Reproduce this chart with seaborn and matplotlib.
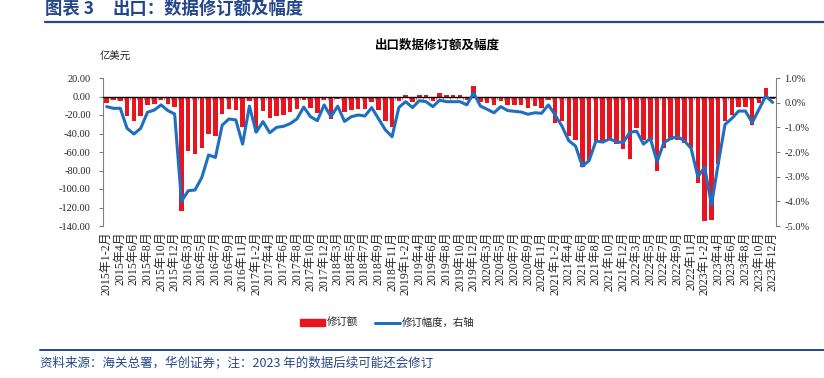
import numpy as np
import pandas as pd
import matplotlib
matplotlib.use("Agg")
import matplotlib.pyplot as plt
import seaborn as sns
from matplotlib.lines import Line2D
from matplotlib.patches import Patch
from matplotlib.ticker import FuncFormatter, FixedLocator

# ---------------- data ----------------
years = list(range(2015, 2024))
months = ["1-2月"] + [f"{m}月" for m in range(3, 13)]
categories = [f"{y}年{m}" for y in years for m in months]

revision_amount = [
    -7, -4, -5, -21, -26.5, -21, -9, -8, -3.5, -8, -11.5,
    -124, -59, -62.5, -55.5, -40, -42.5, -19, -14, -14.5, -33.5, -4.5,
    -38.5, -15.5, -23.5, -21, -20, -17, -13.5, -4, -12.5, -17.5, -4,
    -24, -2.5, -16.5, -14.5, -13, -13, -6, -14.5, -26.5, -33, -5,
    2, -6, 2, 2, -5, 3.5, 2, 2, 2, -4, 11,
    -6, -7, -9, -5, -9, -9, -9.5, -12.5, -10.5, -12.5, -3.5,
    -28.5, -26, -43, -47, -76, -69, -48, -48, -47, -51, -57,
    -68, -34, -47.5, -47, -80, -56, -47.5, -47.5, -50, -55.5, -93.5,
    -134.5, -133, -73.5, -27, -20, -11, -11.5, -31, -7, 9, -2.5,
]
revision_pct = [
    -0.16, -0.23, -0.23, -1.04, -1.27, -1.04, -0.39, -0.30, -0.09, -0.32, -0.46,
    -4.00, -3.57, -3.54, -3.03, -2.12, -2.22, -0.91, -0.66, -0.70, -1.68, -0.14,
    -1.20, -0.77, -1.22, -1.00, -0.96, -0.85, -0.66, -0.18, -0.57, -0.73, -0.09,
    -0.57, -0.14, -0.76, -0.57, -0.50, -0.54, -0.20, -0.65, -1.10, -1.38, -0.19,
    0.04, -0.20, 0.08, 0.04, -0.16, 0.10, 0.04, 0.04, 0.04, -0.09, 0.40,
    -0.14, -0.27, -0.41, -0.16, -0.32, -0.35, -0.38, -0.47, -0.41, -0.43, -0.09,
    -0.50, -0.95, -1.54, -1.76, -2.57, -2.35, -1.55, -1.60, -1.47, -1.58, -1.62,
    -1.20, -1.16, -1.68, -1.45, -2.39, -1.62, -1.45, -1.38, -1.54, -1.85, -3.00,
    -2.62, -4.15, -2.47, -0.88, -0.64, -0.34, -0.34, -0.81, -0.27, 0.27, 0.01,
]
left_ticks = [20, 0, -20, -40, -60, -80, -100, -120, -140]
right_ticks = [1, 0, -1, -2, -3, -4, -5]

df = pd.DataFrame({"month": categories, "amount": revision_amount,
                   "pct": revision_pct, "pos": np.arange(len(categories))})

# ---------------- style ----------------
RED = "#E8141E"
BLUE = "#1F6FC1"
HEAD_BLUE = "#24468A"
GRAY = "#808080"

sns.set_theme(style="white")
plt.rcParams["font.family"] = ["Noto Sans CJK SC", "DejaVu Sans"]
plt.rcParams["axes.unicode_minus"] = False
NUM_FONT = ["Liberation Serif", "Noto Sans CJK SC"]

fig = plt.figure(figsize=(8.24, 3.78), dpi=100)
L, R, T, B = 103.3 / 824, 776 / 824, 1 - 78 / 378, 1 - 226 / 378
ax = fig.add_axes([L, B, R - L, T - B])

sns.barplot(data=df, x="month", y="amount", color=RED, saturation=1,
            width=0.66, linewidth=0, ax=ax, zorder=2)
ax.axhline(0, color="black", lw=1.0, zorder=3)
ax.vlines(df["pos"] + 0.5, -4, 0, color="#A0A0A0", lw=0.8, zorder=1)

ax.set_xlim(-0.5, len(categories) - 0.5)
ax.set_ylim(-140, 20)
ax.yaxis.set_major_locator(FixedLocator(left_ticks))
ax.yaxis.set_major_formatter(FuncFormatter(lambda v, p: f"{v:.2f}"))
ax.set_xticks(df["pos"][::2])
ax.set_xticklabels(categories[::2], rotation=90, fontsize=8.6, family=NUM_FONT)
ax.tick_params(axis="x", length=0, pad=4)
ax.tick_params(axis="y", left=True, length=3, width=0.8, color=GRAY,
               direction="out", pad=6, labelsize=7.5)
for lab in ax.get_yticklabels():
    lab.set_family(NUM_FONT)
ax.set_xlabel("")
ax.set_ylabel("")
for s in ["top", "bottom", "right"]:
    ax.spines[s].set_visible(False)
ax.spines["left"].set_color(GRAY)
ax.spines["left"].set_linewidth(0.8)

ax2 = ax.twinx()
sns.lineplot(data=df, x="pos", y="pct", color=BLUE, lw=2.2, ax=ax2, zorder=4)
ax2.set_ylim(-5, 1)
ax2.set_xlim(-0.5, len(categories) - 0.5)
ax2.yaxis.set_major_locator(FixedLocator(right_ticks))
ax2.yaxis.set_major_formatter(FuncFormatter(lambda v, p: f"{v:.1f}%"))
ax2.tick_params(axis="y", right=True, length=3, width=0.8, color=GRAY,
                direction="out", pad=3, labelsize=7.5)
for lab in ax2.get_yticklabels():
    lab.set_family(NUM_FONT)
ax2.set_xlabel("")
ax2.set_ylabel("")
for s in ["top", "bottom", "left"]:
    ax2.spines[s].set_visible(False)
ax2.spines["right"].set_color(GRAY)
ax2.spines["right"].set_linewidth(0.8)

# ---------------- texts ----------------
fig.text(437 / 824, 1 - 45 / 378, "出口数据修订额及幅度", ha="center", va="center",
         fontsize=9, fontweight="bold", color="black")
fig.text(100 / 824, 1 - 57 / 378, "亿美元", ha="left", va="center",
         fontsize=7.5, color="#222222")

fig.text(45 / 824, 1 - 9 / 378, "图表 3", ha="left",
         va="center", fontsize=12.5, fontweight="bold", color=HEAD_BLUE)
fig.text(113 / 824, 1 - 9 / 378, "出口：数据修订额及幅度", ha="left",
         va="center", fontsize=12.5, fontweight="bold", color=HEAD_BLUE)
fig.add_artist(Line2D([45 / 824, 1], [1 - 21.5 / 378] * 2,
                      transform=fig.transFigure, color=HEAD_BLUE, lw=1.6))
fig.add_artist(Line2D([40 / 824, 1], [1 - 350 / 378] * 2,
                      transform=fig.transFigure, color=HEAD_BLUE, lw=1.4))
fig.text(40 / 824, 1 - 363 / 378,
         "资料来源：海关总署，华创证券；注：2023 年的数据后续可能还会修订",
         ha="left", va="center", fontsize=9, style="italic", color=HEAD_BLUE)

handles = [Patch(color=RED, label="修订额"),
           Line2D([], [], color=BLUE, lw=2.2, label="修订幅度，右轴")]
fig.legend(handles=handles, loc="center", bbox_to_anchor=(0.47, 1 - 323 / 378),
           ncol=2, frameon=False, fontsize=7.5, handlelength=2.4,
           handleheight=0.6, columnspacing=1.6, handletextpad=0.2)

fig.savefig("out.png", dpi=100)
